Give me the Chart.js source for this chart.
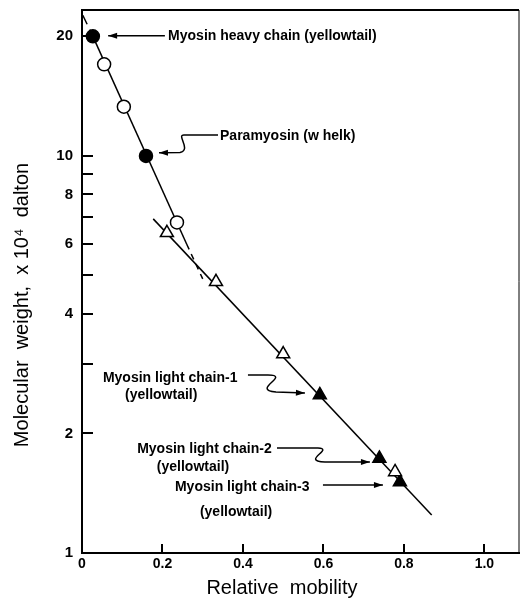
<!DOCTYPE html>
<html>
<head>
<meta charset="utf-8">
<script src="https://cdn.jsdelivr.net/npm/chart.js@4.4.1/dist/chart.umd.min.js"></script>
<style>
html, body { margin: 0; padding: 0; background: #fff; }
</style>
</head>
<body>
<canvas id="chart" width="521" height="604"></canvas>
<script>
// values: x = relative mobility, y = molecular weight (x 10^4)
var filledCircles = [{x: 0.027, y: 20}, {x: 0.159, y: 10}];
var openCircles = [{x: 0.055, y: 17}, {x: 0.104, y: 13.3}, {x: 0.236, y: 6.8}];
var openTriangles = [{x: 0.211, y: 6.4}, {x: 0.333, y: 4.82}, {x: 0.5, y: 3.17}, {x: 0.778, y: 1.6}];
var filledTriangles = [{x: 0.591, y: 2.5}, {x: 0.739, y: 1.73}, {x: 0.79, y: 1.51}];

// fitted lines
var upperLine = [{x: 0.027, y: 20}, {x: 0.26, y: 6.0}];
var upperDashTop = [{x: 0.002, y: 22.6}, {x: 0.024, y: 20.3}];
var upperDashEnd = [{x: 0.26, y: 6.0}, {x: 0.30, y: 4.9}];
var lowerLine = [{x: 0.177, y: 6.94}, {x: 0.869, y: 1.247}];

var xTicks = [0, 0.2, 0.4, 0.6, 0.8, 1.0];
var xTickLabels = ['0', '0.2', '0.4', '0.6', '0.8', '1.0'];
var yTicks = [1, 2, 3, 4, 5, 6, 7, 8, 9, 10, 20];
var yTickLabels = {1: '1', 2: '2', 4: '4', 6: '6', 8: '8', 10: '10', 20: '20'};

var xTitle = 'Relative  mobility';
var yTitle = 'Molecular  weight,  x 10\u2074  dalton';

// annotation texts, anchored in data coordinates
var noteTexts = [
    {text: 'Myosin heavy chain (yellowtail)', x: 0.214, y: 20.06},
    {text: 'Paramyosin (w helk)', x: 0.343, y: 11.23},
    {text: 'Myosin light chain-1', x: 0.052, y: 2.76},
    {text: '(yellowtail)', x: 0.107, y: 2.50},
    {text: 'Myosin light chain-2', x: 0.137, y: 1.828},
    {text: '(yellowtail)', x: 0.186, y: 1.647},
    {text: 'Myosin light chain-3', x: 0.231, y: 1.466},
    {text: '(yellowtail)', x: 0.293, y: 1.27}
];
// arrows: list of path steps in data coordinates, last point is the tip
var noteArrows = [
    [['M', 0.206, 20.06], ['L', 0.065, 20.06]],
    [['M', 0.338, 11.29], ['L', 0.2534, 11.29], ['C', 0.2335, 11.29, 0.2733, 10.35, 0.2435, 10.20], ['L', 0.1913, 10.18]],
    [['M', 0.4124, 2.808], ['L', 0.4621, 2.808], ['C', 0.5217, 2.808, 0.4174, 2.574, 0.482, 2.544], ['L', 0.554, 2.529]],
    [['M', 0.4845, 1.838], ['L', 0.5863, 1.838], ['C', 0.6286, 1.83, 0.5416, 1.705, 0.6037, 1.695], ['L', 0.7155, 1.695]],
    [['M', 0.5988, 1.484], ['L', 0.7478, 1.484]]
];

var fontFamily = '"Liberation Sans", Arial, sans-serif';

var frameAndNotes = {
    id: 'frameAndNotes',
    afterDatasetsDraw: function (chart) {
        var ctx = chart.ctx, xs = chart.scales.x, ys = chart.scales.y, a = chart.chartArea;
        function px(v) { return xs.getPixelForValue(v); }
        function py(v) { return ys.getPixelForValue(v); }
        ctx.save();
        ctx.strokeStyle = '#000';
        ctx.fillStyle = '#000';

        // inward tick marks
        ctx.lineWidth = 2;
        ctx.beginPath();
        yTicks.forEach(function (v) {
            if (v === 1) return;
            var y = Math.round(py(v));
            ctx.moveTo(a.left, y); ctx.lineTo(a.left + 11, y);
        });
        xTicks.forEach(function (v) {
            if (v === 0) return;
            var x = Math.round(px(v));
            ctx.moveTo(x, a.bottom); ctx.lineTo(x, a.bottom - 9);
        });
        ctx.stroke();

        // top and right frame
        ctx.beginPath();
        ctx.moveTo(a.left - 1, a.top); ctx.lineTo(a.right, a.top);
        ctx.stroke();
        ctx.lineWidth = 1;
        ctx.beginPath();
        ctx.moveTo(a.right, a.top); ctx.lineTo(a.right, a.bottom);
        ctx.stroke();

        // annotation arrows
        ctx.lineWidth = 1.5;
        noteArrows.forEach(function (steps) {
            ctx.beginPath();
            var prev = null, last = null;
            steps.forEach(function (s) {
                if (s[0] === 'M') { ctx.moveTo(px(s[1]), py(s[2])); last = [px(s[1]), py(s[2])]; }
                else if (s[0] === 'L') { prev = last; last = [px(s[1]), py(s[2])]; ctx.lineTo(last[0], last[1]); }
                else if (s[0] === 'C') {
                    ctx.bezierCurveTo(px(s[1]), py(s[2]), px(s[3]), py(s[4]), px(s[5]), py(s[6]));
                    last = [px(s[5]), py(s[6])];
                }
            });
            ctx.stroke();
            var ang = Math.atan2(last[1] - prev[1], last[0] - prev[0]);
            ctx.beginPath();
            ctx.moveTo(last[0], last[1]);
            ctx.lineTo(last[0] - 9 * Math.cos(ang) + 3 * Math.sin(ang), last[1] - 9 * Math.sin(ang) - 3 * Math.cos(ang));
            ctx.lineTo(last[0] - 9 * Math.cos(ang) - 3 * Math.sin(ang), last[1] - 9 * Math.sin(ang) + 3 * Math.cos(ang));
            ctx.closePath();
            ctx.fill();
        });

        // annotation texts
        ctx.font = 'bold 14px ' + fontFamily;
        ctx.textAlign = 'left';
        ctx.textBaseline = 'middle';
        noteTexts.forEach(function (n) {
            ctx.fillText(n.text, px(n.x), py(n.y));
        });

        // axis titles (the original sets them off-centre)
        ctx.font = '20px ' + fontFamily;
        ctx.textAlign = 'center';
        ctx.fillText(xTitle, 282, 588);
        ctx.translate(22, 305);
        ctx.rotate(-Math.PI / 2);
        ctx.fillText(yTitle, 0, 0);
        ctx.restore();
    }
};

function lineSet(pts, dash) {
    return {
        data: pts, showLine: true, borderColor: '#000', borderWidth: 1.5,
        borderDash: dash || [], pointRadius: 0, fill: false, order: 2
    };
}
function markerSet(pts, style, fillColor) {
    return {
        data: pts, showLine: false, pointStyle: style,
        pointRadius: style === 'circle' ? 6.5 : 7.5,
        pointBackgroundColor: fillColor, pointBorderColor: '#000', pointBorderWidth: 1.5,
        order: 1
    };
}

var ctx = document.getElementById('chart').getContext('2d');
var chart = new Chart(ctx, {
    type: 'scatter',
    data: {
        datasets: [
            lineSet(upperLine),
            lineSet(upperDashTop, [10, 6]),
            lineSet(upperDashEnd, [6, 5]),
            lineSet(lowerLine),
            markerSet(filledCircles, 'circle', '#000'),
            markerSet(openCircles, 'circle', '#fff'),
            markerSet(openTriangles, 'triangle', '#fff'),
            markerSet(filledTriangles, 'triangle', '#000')
        ]
    },
    options: {
        responsive: false,
        animation: false,
        devicePixelRatio: 1,
        layout: {autoPadding: false, padding: {top: 10, right: 2, left: 0, bottom: 0}},
        plugins: {legend: {display: false}, tooltip: {enabled: false}},
        scales: {
            x: {
                type: 'linear', min: 0, max: 1.086,
                afterBuildTicks: function (s) { s.ticks = xTicks.map(function (v) { return {value: v}; }); },
                afterFit: function (s) { s.height = 51; s.paddingLeft = 0; s.paddingRight = 0; },
                grid: {display: false, drawTicks: false},
                border: {display: true, color: '#000', width: 2},
                ticks: {
                    padding: 3, color: '#000', autoSkip: false, maxRotation: 0,
                    font: {family: fontFamily, size: 14, weight: 'bold'},
                    callback: function (v) { return xTickLabels[xTicks.indexOf(v)]; }
                }
            },
            y: {
                type: 'logarithmic', min: 1, max: 23.3,
                afterBuildTicks: function (s) { s.ticks = yTicks.map(function (v) { return {value: v}; }); },
                afterFit: function (s) { s.width = 82; s.paddingTop = 0; s.paddingBottom = 0; },
                grid: {display: false, drawTicks: false},
                border: {display: true, color: '#000', width: 2},
                ticks: {
                    padding: 9, color: '#000', autoSkip: false,
                    font: {family: fontFamily, size: 15, weight: 'bold'},
                    callback: function (v) { return yTickLabels[v] || ''; }
                }
            }
        }
    },
    plugins: [frameAndNotes]
});
</script>
</body>
</html>
